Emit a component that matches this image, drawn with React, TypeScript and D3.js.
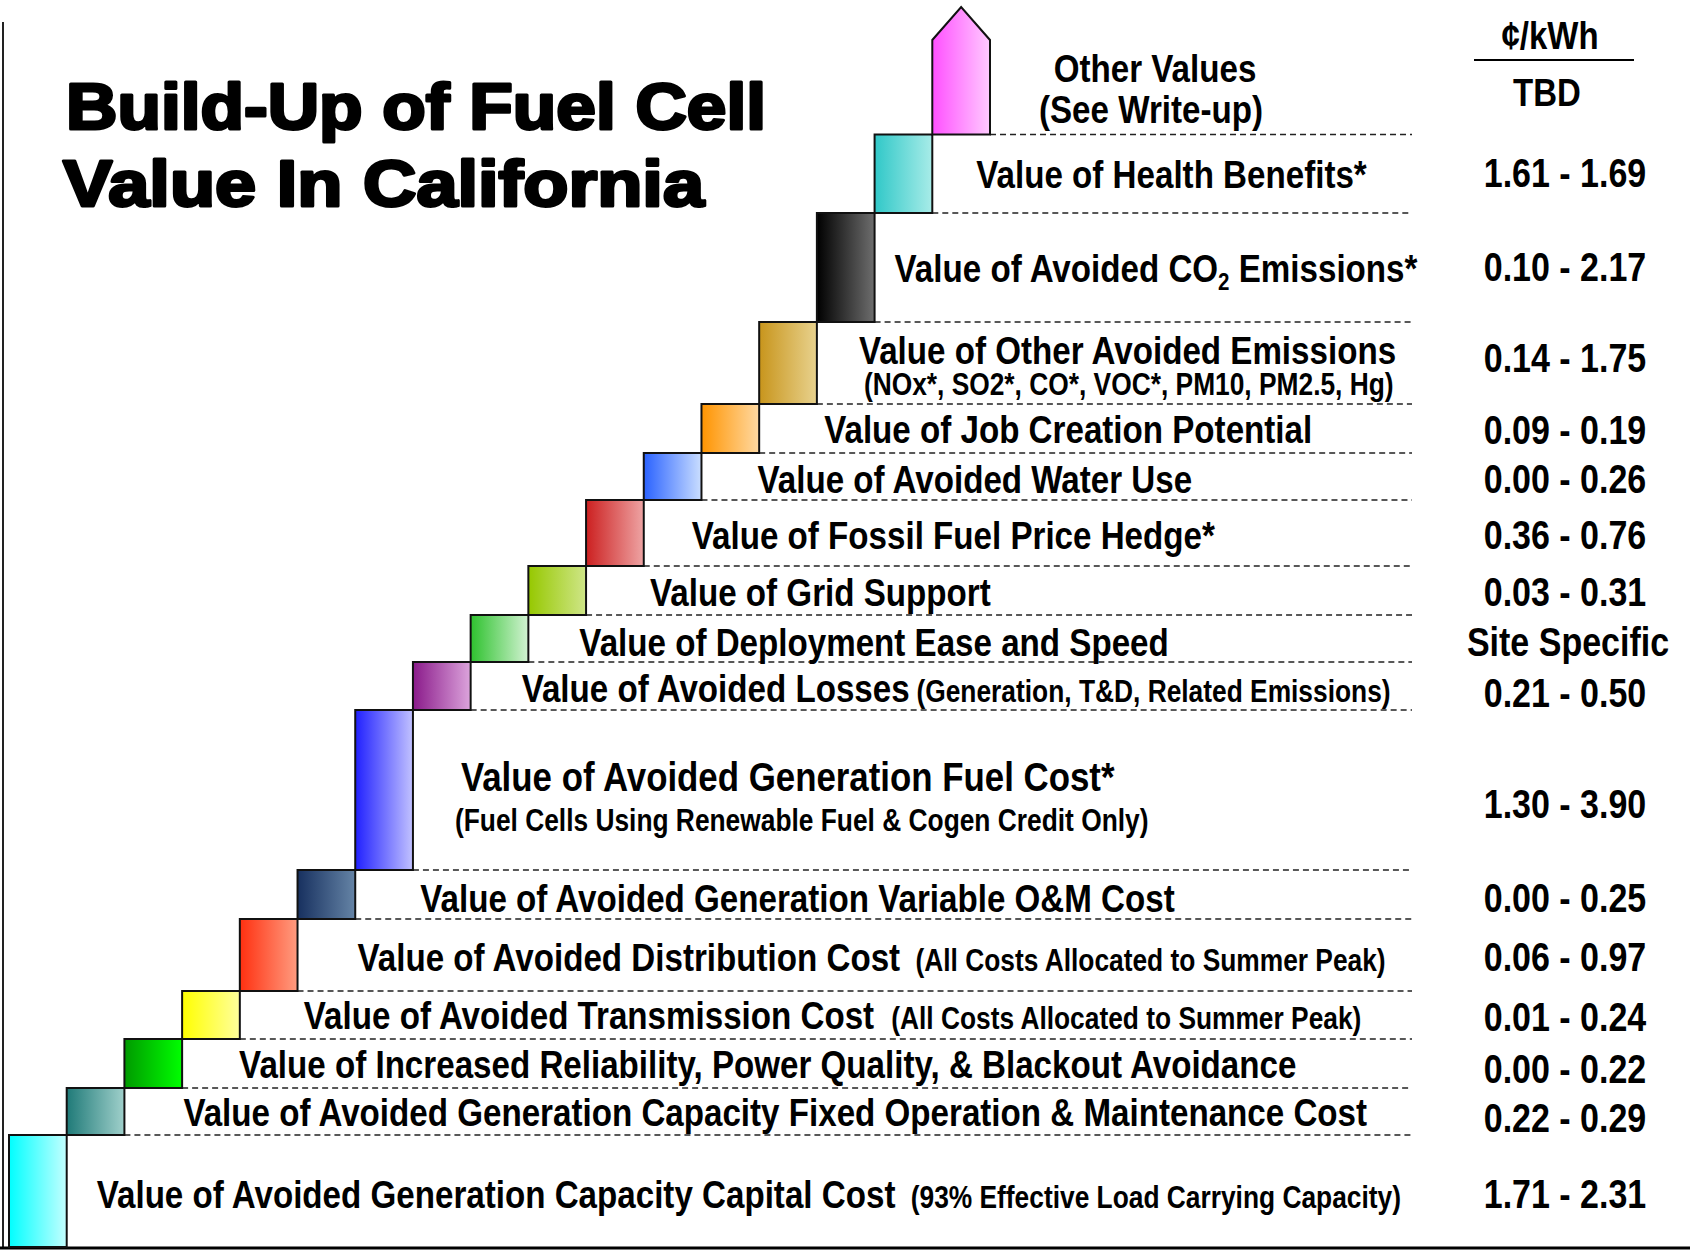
import React, { useEffect } from 'react';
import * as d3 from 'd3';

// ---- data (bottom step first) ----
const labels = [
  'Value of Avoided Generation Capacity Capital Cost',
  'Value of Avoided Generation Capacity Fixed Operation & Maintenance Cost',
  'Value of Increased Reliability, Power Quality, & Blackout Avoidance',
  'Value of Avoided Transmission Cost',
  'Value of Avoided Distribution Cost',
  'Value of Avoided Generation Variable O&M Cost',
  'Value of Avoided Generation Fuel Cost*',
  'Value of Avoided Losses',
  'Value of Deployment Ease and Speed',
  'Value of Grid Support',
  'Value of Fossil Fuel Price Hedge*',
  'Value of Avoided Water Use',
  'Value of Job Creation Potential',
  'Value of Other Avoided Emissions',
  'Value of Avoided CO_2 Emissions*',
  'Value of Health Benefits*',
  'Other Values',
];

const notes = [
  '(93% Effective Load Carrying Capacity)', '', '',
  '(All Costs Allocated to Summer Peak)', '(All Costs Allocated to Summer Peak)',
  '', '', '(Generation, T&D, Related Emissions)', '', '', '', '', '', '', '', '', '',
];

const secondLines = [
  '', '', '', '', '', '',
  '(Fuel Cells Using Renewable Fuel & Cogen Credit Only)',
  '', '', '', '', '', '',
  '(NOx*, SO2*, CO*, VOC*, PM10, PM2.5, Hg)',
  '', '', '(See Write-up)',
];

const lowValues = [1.71, 0.22, 0.0, 0.01, 0.06, 0.0, 1.3, 0.21, NaN, 0.03, 0.36, 0.0, 0.09, 0.14, 0.1, 1.61, NaN];
const highValues = [2.31, 0.29, 0.22, 0.24, 0.97, 0.25, 3.9, 0.5, NaN, 0.31, 0.76, 0.26, 0.19, 1.75, 2.17, 1.69, NaN];
const valueNotes = ['', '', '', '', '', '', '', '', 'Site Specific', '', '', '', '', '', '', '', 'TBD'];

const unitLabel = '¢/kWh';
const titleLines = ['Build-Up of Fuel Cell', 'Value In California'];

// ---- styles / layout ----
const colorFrom = ['#00ffff', '#1f7a78', '#009a00', '#ffff00', '#ff3010', '#17305f', '#2020ff', '#8a1a8a', '#2ec22e', '#96c800', '#cc2020', '#2a62ff', '#ff9400', '#c8951c', '#000000', '#30c8c8', '#ff50ff'];
const colorTo = ['#c4ffff', '#a0d0cb', '#00ff00', '#ffff9c', '#ff9c80', '#6584a6', '#c2c2ff', '#dca4dc', '#d2f2d2', '#cfe688', '#eea4a4', '#cadeff', '#ffd9a2', '#e8d28e', '#6e6e6e', '#a8ece8', '#ffcaff'];

// row heights in reference pixels (schematic steps)
const stepSpan = [112, 47, 49, 48, 72, 49, 160, 48, 47, 49, 66, 47, 49, 82, 109, 78.5, 127.5];
const arrowTip = 33;
const labelDx = [30, 59, 57, 64, 60, 65, 48, 51, 51, 64, 48, 56, 65, 42, 20, 44, 0];
const subDx = [0, 0, 0, 0, 0, 0, 42, 0, 0, 0, 0, 0, 0, 47, 0, 0, 0];
const noteDx = [18, 0, 0, 20, 18, 0, 0, 8, 0, 0, 0, 0, 0, 0, 0, 0, 0];
const labelDy = [3, 0, 0, 0, 2, 3, -14, 2, 3, 1, 2, 2, 0, -13, 0, 0, -3];
const subDy = [0, 0, 0, 0, 0, 0, 30, 0, 0, 0, 0, 0, 0, 21, 0, 0, 38];
const valueDy = [3, 6, 5, 2, 2, 3, 14, 7, 3, 1, 2, 2, 1, -5, -1, -1, 21];
const mainSize = [39, 39, 39, 39, 39, 39, 41, 39, 39, 39, 39, 39, 39, 39, 39, 39, 39];

const W = 1690;
const H = 1250;
const FONT = "'Liberation Sans', Arial, Helvetica, sans-serif";
const SX = 0.85;
const SMALL = 31;
const VAL = 40;
const lineEnd = 1412;
const valueX = 1565;
const headX = 1550;

const fmt = d3.format('.2f');

function renderLabel(s: string, size: number) {
  const parts = s.split('_2');
  if (parts.length === 1) return s;
  return (
    <>
      {parts[0]}
      <tspan fontSize={size * 0.62} dy={size * 0.22}>2</tspan>
      <tspan dy={-size * 0.22}>{parts[1]}</tspan>
    </>
  );
}

export default function App() {
  useEffect(() => {
    document.body.style.margin = '0';
  }, []);

  const n = labels.length;
  const bounds = [0, ...Array.from(d3.cumsum(stepSpan))];
  const y = d3.scaleLinear().domain([0, d3.sum(stepSpan)]).range([1247, 7]);
  const x = d3.scaleBand<number>().domain(d3.range(n)).range([9, 990]).paddingInner(0).paddingOuter(0);
  const bw = x.bandwidth();

  return (
    <svg width={W} height={H} viewBox={`0 0 ${W} ${H}`} style={{ position: 'absolute', left: 0, top: 0, background: '#fff' }}
      fontFamily={FONT} fontWeight="bold">
      <defs>
        {colorFrom.map((c, i) => (
          <linearGradient key={i} id={`grad${i}`} x1="0" x2="1" y1="0" y2="0">
            <stop offset="0%" stopColor={c} />
            <stop offset="100%" stopColor={colorTo[i]} />
          </linearGradient>
        ))}
      </defs>
      <rect width={W} height={H} fill="#fff" />

      {/* frame */}
      <line x1={3} x2={3} y1={22} y2={1248} stroke="#222" strokeWidth={2} />
      <line x1={0} x2={W} y1={1248} y2={1248} stroke="#000" strokeWidth={3} />

      {/* title */}
      {titleLines.map((t, i) => (
        <text key={t} x={i === 0 ? 66 : 63} y={i === 0 ? 129 : 206}
          textLength={i === 0 ? 700 : 641} lengthAdjust="spacingAndGlyphs"
          fontSize={64} fill="#000" stroke="#000" strokeWidth={3} strokeLinejoin="round">
          {t}
        </text>
      ))}

      {/* dashed row separators */}
      {d3.range(1, n).map(k => (
        <line key={`d${k}`} x1={(x(k) as number) + bw} x2={lineEnd} y1={y(bounds[k])} y2={y(bounds[k])}
          stroke="#222" strokeWidth={1.6} strokeDasharray="6 4" />
      ))}

      {/* steps */}
      {d3.range(n).map(i => {
        const x0 = x(i) as number;
        const top = y(bounds[i + 1]);
        const bot = y(bounds[i]);
        if (i === n - 1) {
          const sh = y(bounds[i + 1] - arrowTip);
          const pts = [[x0, bot], [x0, sh], [x0 + bw / 2, top], [x0 + bw, sh], [x0 + bw, bot]];
          return <polygon key={i} points={pts.map(p => p.join(',')).join(' ')} fill={`url(#grad${i})`} stroke="#111" strokeWidth={2} />;
        }
        return <rect key={i} x={x0} y={top} width={bw} height={bot - top} fill={`url(#grad${i})`} stroke="#111" strokeWidth={2} />;
      })}

      {/* labels */}
      {d3.range(n).map(i => {
        const mid = (y(bounds[i]) + y(bounds[i + 1])) / 2;
        const last = i === n - 1;
        const size = mainSize[i];
        const lx = last ? 1155 : (x(i) as number) + bw + labelDx[i];
        const anchor = last ? 'middle' : 'start';
        const ly = mid + labelDy[i] + size * 0.36;
        const subSize = last ? size : SMALL;
        const sx2 = last ? 1151 : (x(i) as number) + bw + subDx[i];
        return (
          <g key={`l${i}`}>
            <text transform={`translate(${lx},${ly}) scale(${SX},1)`} fontSize={size} textAnchor={anchor} fill="#000">
              {renderLabel(labels[i], size)}
              {notes[i] ? <tspan fontSize={SMALL} dx={noteDx[i]}>{notes[i]}</tspan> : null}
            </text>
            {secondLines[i] ? (
              <text transform={`translate(${sx2},${mid + subDy[i] + subSize * 0.36}) scale(${SX},1)`} fontSize={subSize}
                textAnchor={anchor} fill="#000">
                {secondLines[i]}
              </text>
            ) : null}
          </g>
        );
      })}

      {/* values column */}
      <text transform={`translate(${headX},${34.5 + VAL * 0.36}) scale(${SX},1)`} fontSize={VAL * 0.97} textAnchor="middle">{unitLabel}</text>
      <line x1={1474} x2={1634} y1={60} y2={60} stroke="#000" strokeWidth={2} />
      {d3.range(n).map(i => {
        const mid = (y(bounds[i]) + y(bounds[i + 1])) / 2;
        const txt = valueNotes[i] || `${fmt(lowValues[i])} - ${fmt(highValues[i])}`;
        const cx = i === n - 1 ? headX - 3 : valueX + (valueNotes[i] ? 3 : 0);
        return (
          <text key={`v${i}`} transform={`translate(${cx},${mid + valueDy[i] + VAL * 0.36}) scale(${SX},1)`}
            fontSize={i === n - 1 ? VAL * 0.97 : VAL} textAnchor="middle" fill="#000">
            {txt}
          </text>
        );
      })}
    </svg>
  );
}
